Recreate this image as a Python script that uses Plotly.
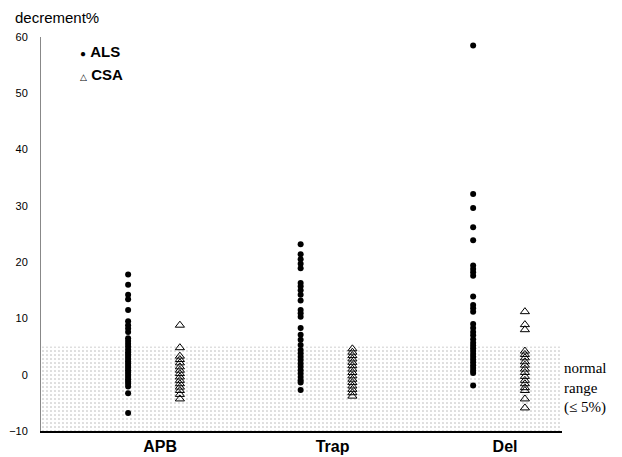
import plotly.graph_objects as go

categories = ["APB", "Trap", "Del"]

als_apb = [17.8, 16.0, 14.2, 13.4, 11.5, 9.5, 8.8, 8.2, 7.6, 6.5, 6.0, 5.5, 5.0, 4.5, 4.0,
           3.6, 3.2, 2.8, 2.4, 2.0, 1.6, 1.2, 0.8, 0.4, 0.0, -0.4, -0.8, -1.2, -1.6, -2.1,
           -3.3, -6.8]
csa_apb = [8.8, 4.8, 3.3, 2.7, 2.1, 1.4, 0.8, 0.2, -0.4, -1.0, -1.6, -2.2, -2.8, -3.5, -4.3]

als_trap = [23.2, 21.4, 20.5, 19.7, 18.9, 16.3, 15.7, 15.0, 14.2, 13.2, 11.5, 10.9, 10.3,
            8.3, 7.1, 6.2, 5.3, 4.4, 3.8, 3.2, 2.6, 2.0, 1.4, 0.8, 0.2, -0.4, -1.0, -1.4,
            -2.7]
csa_trap = [4.6, 4.0, 3.4, 2.8, 2.2, 1.6, 1.0, 0.4, -0.2, -0.8, -1.4, -2.0, -2.6, -3.2, -3.8]

als_del = [58.5, 32.1, 29.6, 26.2, 23.9, 19.4, 18.8, 18.2, 17.6, 13.9, 12.4, 11.8, 11.2,
           9.0, 8.3, 7.6, 7.0, 6.3, 5.7, 5.2, 4.7, 4.2, 3.7, 3.2, 2.7, 2.2, 1.7, 1.2, 0.7,
           0.3, -1.9]
csa_del = [11.2, 8.9, 8.0, 4.2, 3.6, 3.0, 2.3, 1.7, 1.0, 0.4, -0.3, -1.0, -1.6, -2.3, -2.8,
           -4.3, -5.9]

y_ticks = [-10, 0, 10, 20, 30, 40, 50, 60]
normal_max = 5
y_min, y_max = -10, 60

als_offset = -0.185
csa_offset = 0.115
x_lo, x_hi = -0.69, 2.33

als_sets = [als_apb, als_trap, als_del]
csa_sets = [csa_apb, csa_trap, csa_del]

fig = go.Figure()

# normal range band (stippled)
fig.add_trace(go.Scatter(
    x=[x_lo, x_hi, x_hi, x_lo, x_lo],
    y=[y_min, y_min, normal_max, normal_max, y_min],
    fill="toself", mode="none", showlegend=False, hoverinfo="skip",
    fillcolor="rgba(255,255,255,0)",
    fillpattern=dict(shape=".", fgcolor="#b4b4b4", bgcolor="white",
                     size=4, solidity=0.12),
))

ax, ay = [], []
for i, vals in enumerate(als_sets):
    ax += [i + als_offset] * len(vals)
    ay += vals
cx, cy = [], []
for i, vals in enumerate(csa_sets):
    cx += [i + csa_offset] * len(vals)
    cy += vals

fig.add_trace(go.Scatter(
    x=ax, y=ay, mode="markers", name="ALS", showlegend=False,
    marker=dict(symbol="circle", size=6, color="black"),
))
fig.add_trace(go.Scatter(
    x=cx, y=cy, mode="markers", name="CSA", showlegend=False,
    marker=dict(symbol="triangle-up-open", size=8, color="black",
                line=dict(width=1, color="black")),
))

font_sans = "Liberation Sans, Arial, sans-serif"
plot_h = 394.0
plot_w = 521.0

fig.update_layout(
    template="none",
    width=614, height=449,
    margin=dict(l=33, r=60, t=29, b=26, pad=0),
    paper_bgcolor="white", plot_bgcolor="white",
    font=dict(family=font_sans, color="black"),
    showlegend=False,
    xaxis=dict(range=[x_lo, x_hi], tickmode="array", tickvals=[0, 1, 2],
               ticktext=["<b>%s</b>" % c for c in categories],
               tickfont=dict(size=16, family=font_sans, color="black"),
               showgrid=False, zeroline=False, showline=True, automargin=False,
               linecolor="black", linewidth=1.5, ticks="", ticklabelstandoff=0),
    yaxis=dict(range=[y_min, y_max], tickmode="array", tickvals=y_ticks,
               tickfont=dict(size=11, family=font_sans, color="black"),
               showgrid=False, zeroline=False, showline=True, automargin=False,
               linecolor="#888888", linewidth=1, ticks="", ticklabelstandoff=10),
    annotations=[
        dict(text="decrement%", xref="paper", yref="paper",
             x=-28 / plot_w, y=1 + 20 / plot_h,
             xanchor="left", yanchor="middle", showarrow=False,
             font=dict(size=15, family=font_sans, color="black")),
        dict(text='<span style="font-size:10px">●</span> <b>ALS</b>',
             xref="paper", yref="paper", x=37 / plot_w, y=1 - 14 / plot_h,
             xanchor="left", yanchor="middle", showarrow=False,
             font=dict(size=15, family=font_sans, color="black")),
        dict(text='<span style="font-size:9px">△</span> <b>CSA</b>',
             xref="paper", yref="paper", x=37 / plot_w, y=1 - 37 / plot_h,
             xanchor="left", yanchor="middle", showarrow=False,
             font=dict(size=15, family=font_sans, color="black")),
        dict(text="normal<br>range<br>(≤ 5%)", xref="paper", yref="y",
             x=1.0, y=-2.3, xanchor="left", yanchor="middle", align="left",
             showarrow=False, xshift=0,
             font=dict(size=15, family="Liberation Serif, Times New Roman, serif",
                       color="black")),
    ],
)

fig.write_html("out.html")
